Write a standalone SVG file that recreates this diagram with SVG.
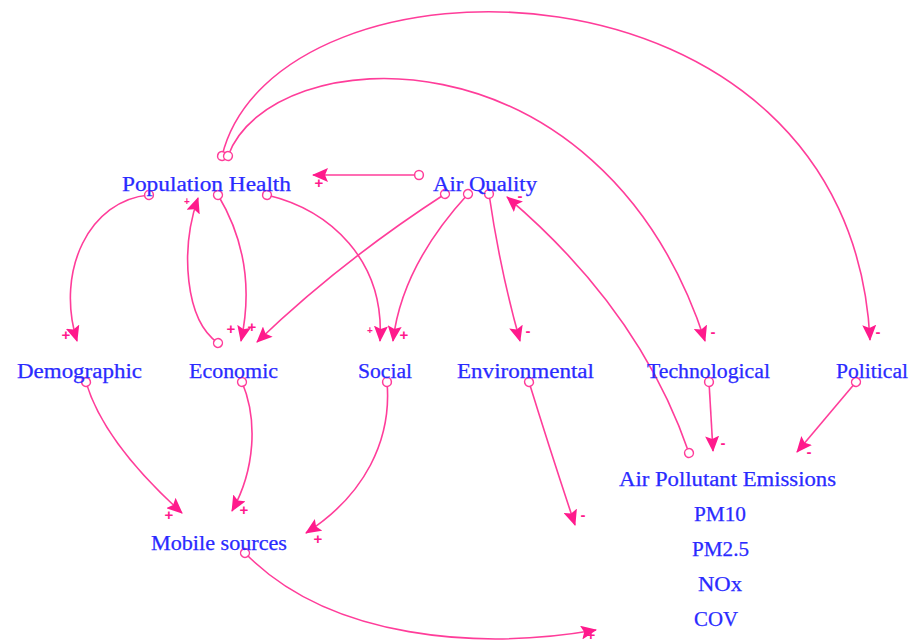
<svg xmlns="http://www.w3.org/2000/svg" width="914" height="643" viewBox="0 0 914 643">
  <style>
    .lbl { font-family: "Liberation Serif", "DejaVu Serif", serif; font-size: 20px; fill: #2a2aff; stroke: #2a2aff; stroke-width: 0.25; }
    .link { fill: none; stroke: #ff3d9a; stroke-width: 1.6; marker-start: url(#tail); marker-end: url(#head); }
    .sign { font-family: "Liberation Sans", "DejaVu Sans", sans-serif; font-size: 15px; font-weight: bold; fill: #ff1a8c; text-anchor: middle; dominant-baseline: central; }
    .sign.small { font-size: 10px; }
  </style>
  <defs>
    <marker id="head" viewBox="0 0 16 14" refX="15" refY="7" markerWidth="16" markerHeight="14" markerUnits="userSpaceOnUse" orient="auto">
      <path d="M0,0 L16,7 L0,14 L3,7 z" fill="#ff1a8c"/>
    </marker>
    <marker id="tail" viewBox="0 0 12 12" refX="6" refY="6" markerWidth="12" markerHeight="12" markerUnits="userSpaceOnUse" orient="auto">
      <circle cx="6" cy="6" r="4.4" fill="#fff" stroke="#ff3d9a" stroke-width="1.5"/>
    </marker>
  </defs>
  <rect width="914" height="643" fill="#fff"/>

  <!-- causal links -->
  <g id="connectors">
    <path class="link" d="M419,175 L313,175"/>
    <path class="link" d="M222,156 C275,-60 850,-60 870,340"/>
    <path class="link" d="M228,156 C270,40 600,20 705,341"/>
    <path class="link" d="M149,195 C90,200 55,270 77,341"/>
    <path class="link" d="M218,343 C185,320 180,250 198,198"/>
    <path class="link" d="M218,195 C245,240 252,290 241,341"/>
    <path class="link" d="M267,195 C330,210 385,260 380,341"/>
    <path class="link" d="M445,194 Q340,262 257,342"/>
    <path class="link" d="M468,194 C435,230 400,280 393,341"/>
    <path class="link" d="M489,194 Q500,270 520,341"/>
    <path class="link" d="M689,453 Q640,310 507,197"/>
    <path class="link" d="M709,382 L713,451"/>
    <path class="link" d="M856,382 L797,452"/>
    <path class="link" d="M529,382 Q550,450 575,525"/>
    <path class="link" d="M86,382 C100,430 140,475 182,513"/>
    <path class="link" d="M242,382 C258,420 255,470 232,511"/>
    <path class="link" d="M387,382 C392,440 365,495 306,533"/>
    <path class="link" d="M245,553 C330,640 480,650 596,630"/>

    <!-- polarity signs -->
    <text class="sign" x="319" y="182">+</text>
    <text class="sign" x="878" y="331">-</text>
    <text class="sign" x="713" y="331">-</text>
    <text class="sign" x="66" y="334">+</text>
    <text class="sign small" x="187" y="201">+</text>
    <text class="sign" x="231" y="328">+</text>
    <text class="sign" x="252" y="326">+</text>
    <text class="sign small" x="370" y="330">+</text>
    <text class="sign" x="404" y="334">+</text>
    <text class="sign" x="528" y="330">-</text>
    <text class="sign" x="520" y="195">-</text>
    <text class="sign" x="723" y="442">-</text>
    <text class="sign" x="809" y="451">-</text>
    <text class="sign" x="583" y="514">-</text>
    <text class="sign" x="169" y="514">+</text>
    <text class="sign" x="244" y="509">+</text>
    <text class="sign" x="318" y="538">+</text>
    <text class="sign" x="591" y="634">+</text>
  </g>

  <g id="population-health"><text class="lbl" x="122" y="191" textLength="169" lengthAdjust="spacingAndGlyphs">Population Health</text></g>
  <g id="air-quality"><text class="lbl" x="433" y="191" textLength="104" lengthAdjust="spacingAndGlyphs">Air Quality</text></g>
  <g id="demographic"><text class="lbl" x="17" y="378" textLength="125" lengthAdjust="spacingAndGlyphs">Demographic</text></g>
  <g id="economic"><text class="lbl" x="189" y="378" textLength="89" lengthAdjust="spacingAndGlyphs">Economic</text></g>
  <g id="social"><text class="lbl" x="358" y="378" textLength="54" lengthAdjust="spacingAndGlyphs">Social</text></g>
  <g id="environmental"><text class="lbl" x="457" y="378" textLength="137" lengthAdjust="spacingAndGlyphs">Environmental</text></g>
  <g id="technological"><text class="lbl" x="647" y="378" textLength="123" lengthAdjust="spacingAndGlyphs">Technological</text></g>
  <g id="political"><text class="lbl" x="836" y="378" textLength="72" lengthAdjust="spacingAndGlyphs">Political</text></g>
  <g id="mobile-sources"><text class="lbl" x="151" y="550" textLength="136" lengthAdjust="spacingAndGlyphs">Mobile sources</text></g>
  <g id="air-pollutant-emissions">
    <text class="lbl" x="619" y="486" textLength="217" lengthAdjust="spacingAndGlyphs">Air Pollutant Emissions</text>
    <text class="lbl" x="694" y="521" textLength="52" lengthAdjust="spacingAndGlyphs">PM10</text>
    <text class="lbl" x="692" y="556" textLength="57" lengthAdjust="spacingAndGlyphs">PM2.5</text>
    <text class="lbl" x="698" y="591" textLength="44" lengthAdjust="spacingAndGlyphs">NOx</text>
    <text class="lbl" x="694" y="626" textLength="44" lengthAdjust="spacingAndGlyphs">COV</text>
  </g>
</svg>
